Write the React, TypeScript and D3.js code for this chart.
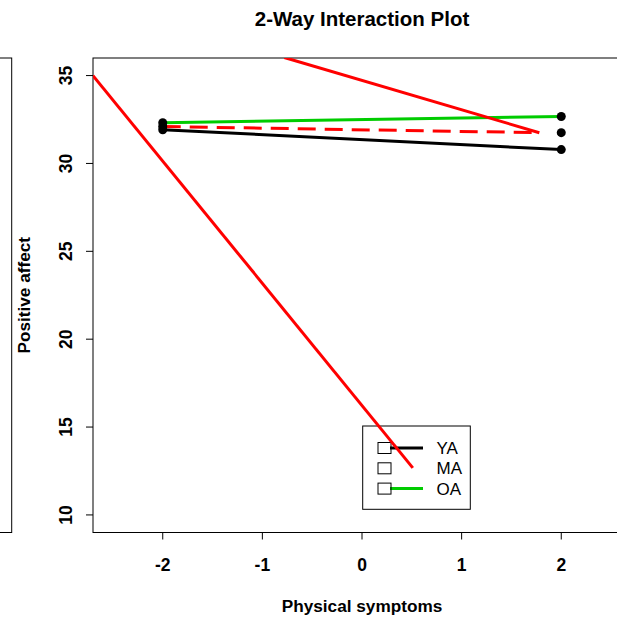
import React from "react";
import * as d3 from "d3";

// simple slopes at low / high physical symptoms
const groups = ["YA", "MA", "OA"];
const colors = ["#000000", "#ff0000", "#00cc00"];
const xPoints = [-2, 2];
const yaValues = [31.92, 30.79];
const maValues = [32.1, 31.75];
const oaValues = [32.32, 32.67];
// extra red lines from the original plot
const redLineA = [[-2.7, 35.0], [0.51, 12.68]];
const redLineB = [[-0.78, 36.03], [1.78, 31.75]];
const maDashedEnd = 1.78;

const xTicks = [-2, -1, 0, 1, 2];
const yTicks = [10, 15, 20, 25, 30, 35];

const W = 617;
const H = 617;
const left = 93;
const right = 631;
const top = 58;
const bottom = 532.5;

const App = () => {
  const x = d3.scaleLinear().domain([-2.7, 2.7]).range([left, right]);
  const y = d3.scaleLinear().domain([9, 36]).range([bottom, top]);
  const line = d3
    .line<number[]>()
    .x((d) => x(d[0]))
    .y((d) => y(d[1]));

  const font = "Liberation Sans, Arial, sans-serif";
  const seriesVals = [yaValues, maValues, oaValues];

  return (
    <svg width={W} height={H} style={{ position: "absolute", left: 0, top: 0 }} fontFamily={font}>
      <defs>
        <clipPath id="plotclip">
          <rect x={left} y={top} width={right - left} height={bottom - top} />
        </clipPath>
      </defs>
      <rect x={0} y={0} width={W} height={H} fill="#fff" />
      <text x={x(0)} y={26} textAnchor="middle" fontWeight="bold" fontSize={20.5}>
        2-Way Interaction Plot
      </text>

      {/* leftover frame of the left panel */}
      <rect x={-20} y={top} width={31.7} height={bottom - top} fill="none" stroke="#000" strokeWidth={1} />

      {/* plot frame */}
      <rect x={left} y={top} width={right - left} height={bottom - top} fill="none" stroke="#000" strokeWidth={1} />

      {/* x axis */}
      {xTicks.map((t) => (
        <g key={"x" + t}>
          <line x1={x(t)} x2={x(t)} y1={bottom} y2={bottom + 7} stroke="#000" />
          <text x={x(t)} y={571} textAnchor="middle" fontWeight="bold" fontSize={17.5}>
            {t}
          </text>
        </g>
      ))}
      <text x={x(0)} y={612} textAnchor="middle" fontWeight="bold" fontSize={17.2}>
        Physical symptoms
      </text>

      {/* y axis */}
      {yTicks.map((t) => (
        <g key={"y" + t}>
          <line x1={left} x2={left - 7} y1={y(t)} y2={y(t)} stroke="#000" />
          <text
            transform={`translate(72,${y(t)}) rotate(-90)`}
            textAnchor="middle"
            fontWeight="bold"
            fontSize={17.5}
          >
            {t}
          </text>
        </g>
      ))}
      <text
        transform={`translate(30,${(top + bottom) / 2}) rotate(-90)`}
        textAnchor="middle"
        fontWeight="bold"
        fontSize={17.2}
      >
        Positive affect
      </text>

      {/* legend */}
      <g>
        <rect x={362.7} y={426} width={107.6} height={83.3} fill="#fff" stroke="#000" strokeWidth={1} />
        {groups.map((g, i) => {
          const cy = 448 + i * 20.3;
          return (
            <g key={g}>
              {g !== "MA" && (
                <line x1={390} x2={423} y1={cy} y2={cy} stroke={colors[i]} strokeWidth={3} />
              )}
              <rect x={378} y={cy - 5.5} width={13} height={11} fill="none" stroke="#000" strokeWidth={1} />
              <text x={436.5} y={cy + 6} fontSize={17}>
                {g}
              </text>
            </g>
          );
        })}
      </g>

      <g clipPath="url(#plotclip)">
        <path d={line(xPoints.map((v, j) => [v, yaValues[j]])) || ""} fill="none" stroke={colors[0]} strokeWidth={3} />
        <path d={line(xPoints.map((v, j) => [v, oaValues[j]])) || ""} fill="none" stroke={colors[2]} strokeWidth={3} />
        <path
          d={line([[xPoints[0], maValues[0]], [maDashedEnd, maValues[1]]]) || ""}
          fill="none"
          stroke={colors[1]}
          strokeWidth={3}
          strokeDasharray="18,9"
        />
        <path d={line(redLineB) || ""} fill="none" stroke={colors[1]} strokeWidth={3} />
        <path d={line(redLineA) || ""} fill="none" stroke={colors[1]} strokeWidth={3} />
        {seriesVals.map((vals, i) =>
          xPoints.map((v, j) => (
            <circle key={i + "-" + j} cx={x(v)} cy={y(vals[j])} r={4.5} fill="#000" />
          ))
        )}
      </g>
    </svg>
  );
};

export default App;
